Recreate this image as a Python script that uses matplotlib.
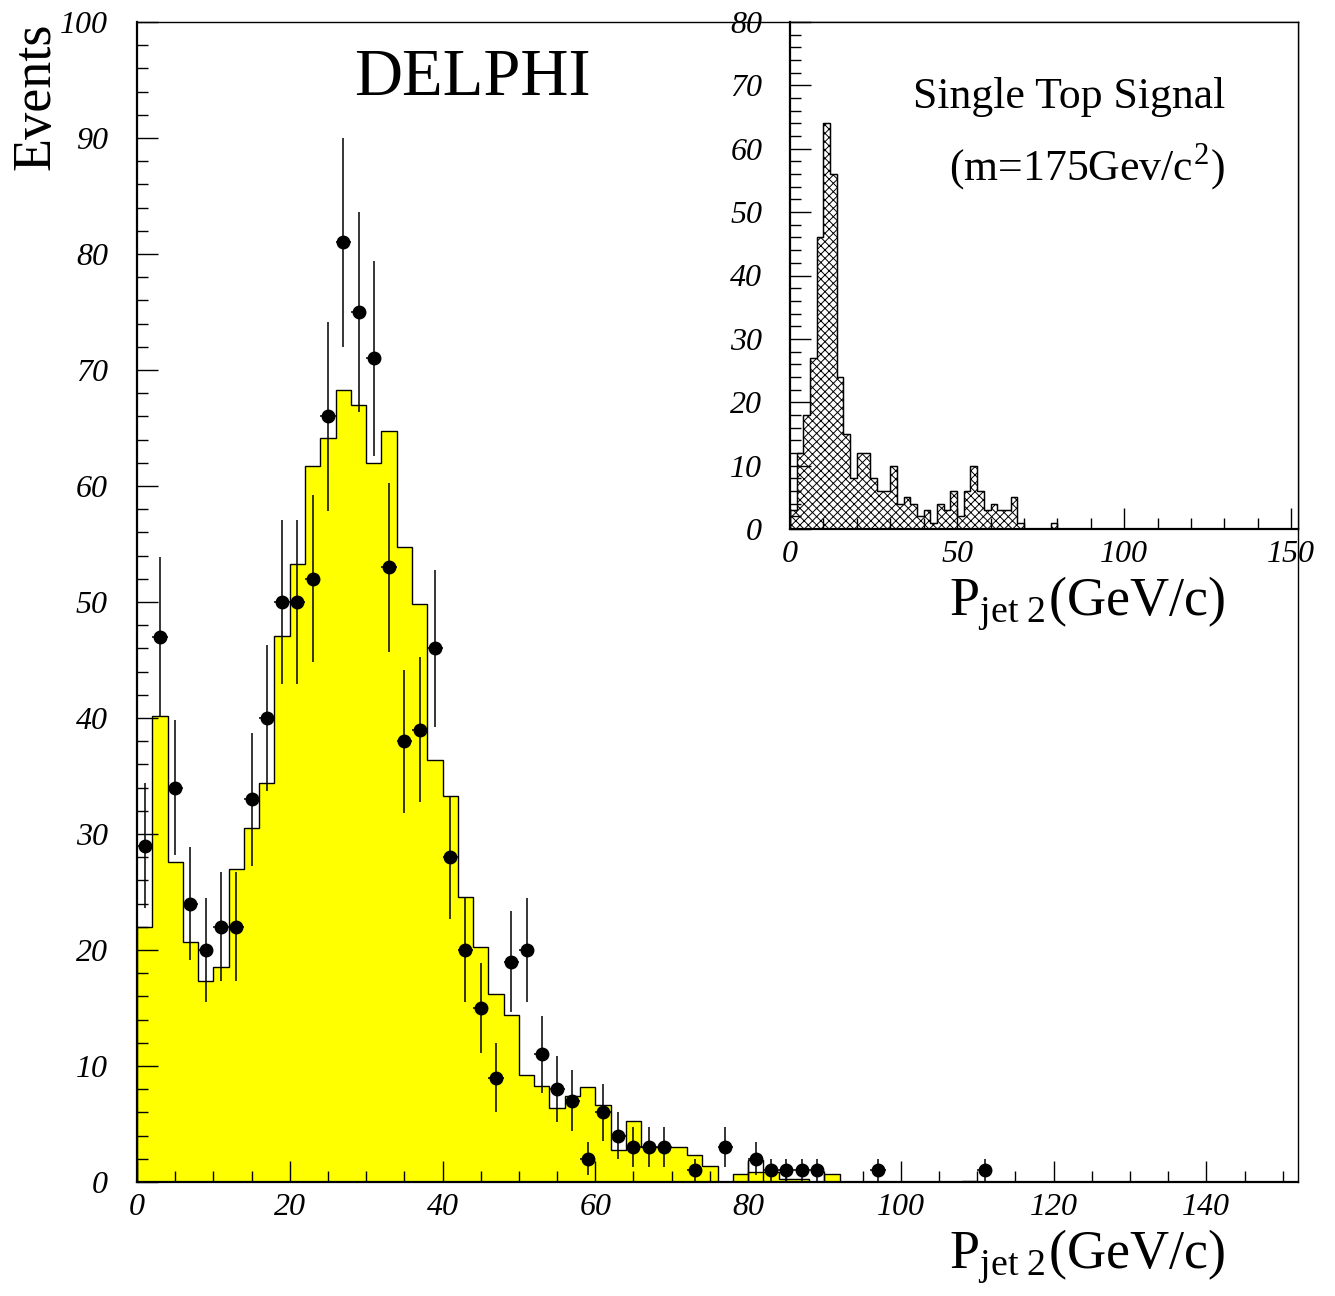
import numpy as np
import matplotlib
matplotlib.use('Agg')
import matplotlib.pyplot as plt
from matplotlib.ticker import MultipleLocator

plt.rcParams['font.family'] = ['Liberation Serif', 'DejaVu Serif']
plt.rcParams['mathtext.fontset'] = 'stix'
plt.rcParams['hatch.linewidth'] = 0.7

# main histogram: expected events (yellow), 2 GeV/c bins starting at 0
mc_yellow = [22.0, 40.2, 27.6, 20.7, 17.3, 18.5, 27.0, 30.5, 34.4, 47.1,
             53.3, 61.7, 64.1, 68.3, 67.0, 62.0, 64.7, 54.7, 49.8, 36.4,
             33.3, 24.6, 20.3, 16.2, 14.4, 9.2, 8.3, 6.4, 7.4, 8.2,
             6.6, 2.8, 5.3, 3.0, 3.0, 3.0, 2.3, 1.35, 0.0, 0.66,
             0.9, 0.9, 0.23, 0.23, 0.0, 0.66]
# outline-only bins where the total sits above the yellow
mc_line_lo = [80, 108]
mc_line_val = [1.9, 0.1]

# data points (bin centres, counts)
data_x = [1, 3, 5, 7, 9, 11, 13, 15, 17, 19, 21, 23, 25, 27, 29, 31, 33, 35,
          37, 39, 41, 43, 45, 47, 49, 51, 53, 55, 57, 59, 61, 63, 65, 67, 69,
          73, 77, 81, 83, 85, 87, 89, 97, 111]
data_n = [29, 47, 34, 24, 20, 22, 22, 33, 40, 50, 50, 52, 66, 81, 75, 71, 53, 38,
          39, 46, 28, 20, 15, 9, 19, 20, 11, 8, 7, 2, 6, 4, 3, 3, 3,
          1, 3, 2, 1, 1, 1, 1, 1, 1]

# inset: single top signal, 2 GeV/c bins from 0
sig_counts = [3, 12, 18, 27, 46, 64, 56, 24, 15, 8, 12, 12, 8, 6, 6, 10, 4, 5, 4, 2,
              3, 1, 4, 3, 6, 2, 6, 10, 6, 3, 4, 3, 3, 5, 1, 0, 0, 0, 0, 1]

bw = 2
W, H = 1335, 1296
fig = plt.figure(figsize=(W / 100, H / 100), dpi=100)


def style_axes(ax):
    ax.tick_params(which='both', direction='in', top=False, right=False, width=1.0)
    ax.tick_params(which='major', length=15)
    ax.tick_params(which='minor', length=8)
    for lab in ax.get_xticklabels() + ax.get_yticklabels():
        lab.set_fontstyle('italic')
        lab.set_fontsize(23)
    for s in ['left', 'bottom']:
        ax.spines[s].set_linewidth(1.6)
    for s in ['top', 'right']:
        ax.spines[s].set_linewidth(1.0)


# ---- main plot
ax = fig.add_axes([137 / W, 1 - 1182 / H, 1161 / W, 1160 / H])
edges = np.arange(0, bw * len(mc_yellow) + 1, bw)
ax.stairs(mc_yellow, edges, fill=True, color='#ffff00', zorder=1)
ax.stairs(mc_yellow, edges, color='black', lw=1.0, zorder=2)
for lo, v in zip(mc_line_lo, mc_line_val):
    ax.stairs([v], [lo, lo + bw], color='black', lw=1.0, zorder=2)

ax.errorbar(data_x, data_n, yerr=np.sqrt(data_n), xerr=bw / 2, fmt='o',
            color='black', ms=9, elinewidth=1.1, capsize=0, zorder=3)

ax.set_xlim(0, 152)
ax.set_ylim(0, 100)
ax.xaxis.set_major_locator(MultipleLocator(20))
ax.xaxis.set_minor_locator(MultipleLocator(5))
ax.yaxis.set_major_locator(MultipleLocator(10))
ax.yaxis.set_minor_locator(MultipleLocator(2))
style_axes(ax)
ax.tick_params(axis='y', pad=21)
ax.tick_params(axis='x', pad=8)

# ---- inset
ax2 = fig.add_axes([790 / W, 1 - 529 / H, 508 / W, 507 / H])
ax2.set_facecolor('white')
sedges = np.arange(0, bw * len(sig_counts) + 1, bw)
ax2.stairs(sig_counts, sedges, fill=True, facecolor='white', edgecolor='black',
           hatch='xxxx', lw=0.8)
ax2.stairs(sig_counts, sedges, color='black', lw=1.0)
ax2.set_xlim(0, 152)
ax2.set_ylim(0, 80)
ax2.xaxis.set_major_locator(MultipleLocator(50))
ax2.xaxis.set_minor_locator(MultipleLocator(10))
ax2.yaxis.set_major_locator(MultipleLocator(10))
ax2.yaxis.set_minor_locator(MultipleLocator(2))
style_axes(ax2)
ax2.tick_params(axis='y', pad=20)
ax2.tick_params(axis='x', pad=8)

# ---- texts
fig.text(472 / W, 1 - 95 / H, 'DELPHI', fontsize=48, ha='center', va='baseline')
fig.text(1225 / W, 1 - 108 / H, 'Single Top Signal', fontsize=31.5, ha='right', va='baseline')
fig.text(1225 / W, 1 - 180 / H, r'(m=175Gev/c$^{\mathregular{2}}$)', fontsize=31.5,
         ha='right', va='baseline')
fig.text(36 / W, 1 - 22 / H, 'Events', fontsize=39, rotation=90, ha='center', va='top')
xlab = r'P$_{\mathregular{jet\ 2}}$(GeV/c)'
fig.text(1225 / W, 1 - 1268 / H, xlab, fontsize=39, ha='right', va='baseline')
fig.text(1225 / W, 1 - 615 / H, xlab, fontsize=39, ha='right', va='baseline')

fig.savefig('out.png', dpi=100)
